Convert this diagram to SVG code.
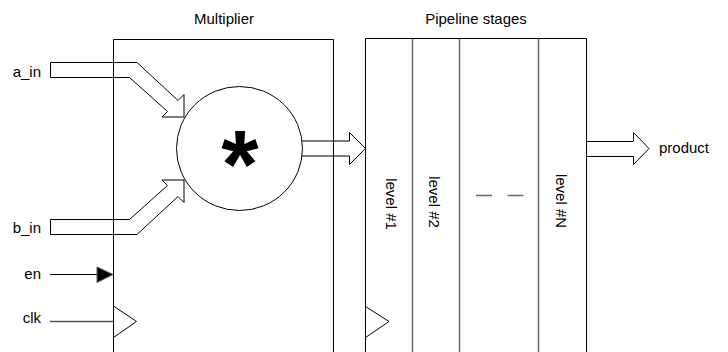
<svg xmlns="http://www.w3.org/2000/svg" width="728" height="352" viewBox="0 0 728 352">
<style>
text{font-family:"Liberation Sans",Arial,Helvetica,sans-serif;font-size:15px;fill:#000}
.ln{fill:none;stroke:#000;stroke-width:1}
.div{stroke:#666;stroke-width:1.5}
.lvl{dominant-baseline:central;text-anchor:middle}
</style>
<rect width="728" height="352" fill="#fff"/>
<g id="multiplier">
  <text x="224" y="24" text-anchor="middle">Multiplier</text>
  <path class="ln" d="M302,141 H349.5 V132.5 L365.5,148.5 L349.5,164.5 V156 H302"/>
  <ellipse cx="239.5" cy="148.5" rx="63" ry="62" fill="#fff" stroke="#000"/>
  <text x="240" y="197" text-anchor="middle" font-weight="bold" style="font-size:96px">*</text>
  <path class="ln" d="M113.5,360 V39.5 H333.5 V360"/>
  <polygon class="ln" points="113.5,306 136.5,321.5 113.5,337.5"/>
</g>
<g id="pipeline">
  <text x="476" y="24" text-anchor="middle">Pipeline stages</text>
  <path class="ln" d="M365.5,360 V38.5 H586.5 V360"/>
  <line class="div" x1="412.5" y1="38.5" x2="412.5" y2="360"/>
  <line class="div" x1="459.5" y1="38.5" x2="459.5" y2="360"/>
  <line class="div" x1="538.5" y1="38.5" x2="538.5" y2="360"/>
  <polygon class="ln" points="365.5,306.5 389,321.5 365.5,337.5"/>
  <text class="lvl" transform="translate(391.5,204) rotate(90)">level #1</text>
  <text class="lvl" transform="translate(434,202) rotate(90)">level #2</text>
  <text class="lvl" transform="translate(561,201) rotate(90)">level #N</text>
  <line class="div" x1="476" y1="195.5" x2="492" y2="195.5" stroke="#888"/>
  <line class="div" x1="507.5" y1="195.5" x2="523.5" y2="195.5" stroke="#888"/>
</g>
<g id="connectors">
  <polygon class="ln" points="50.5,62.5 137,62.5 178,100.5 184,94.5 184,117 162,117 167.5,111.5 129.5,77.5 50.5,77.5"/>
  <polygon class="ln" points="50.5,234.5 137,234.5 178,196.5 184,202.5 184,180 162,180 167.5,185.5 129.5,219.5 50.5,219.5"/>
  <polygon class="ln" points="586.5,141.5 633.5,141.5 633.5,132.5 649,148.5 633.5,164.5 633.5,156.5 586.5,156.5"/>
  <line x1="50" y1="274.5" x2="100" y2="274.5" stroke="#000"/>
  <polygon points="97,267 113,274.5 97,282.5" fill="#000" stroke="#555"/>
  <line x1="50" y1="321.5" x2="113.5" y2="321.5" stroke="#555" stroke-width="1.3"/>
</g>
<g id="labels">
  <text x="41" y="76.5" text-anchor="end">a_in</text>
  <text x="41" y="233" text-anchor="end">b_in</text>
  <text x="41" y="278.5" text-anchor="end">en</text>
  <text x="41" y="322.5" text-anchor="end">clk</text>
  <text x="659" y="153">product</text>
</g>
</svg>
